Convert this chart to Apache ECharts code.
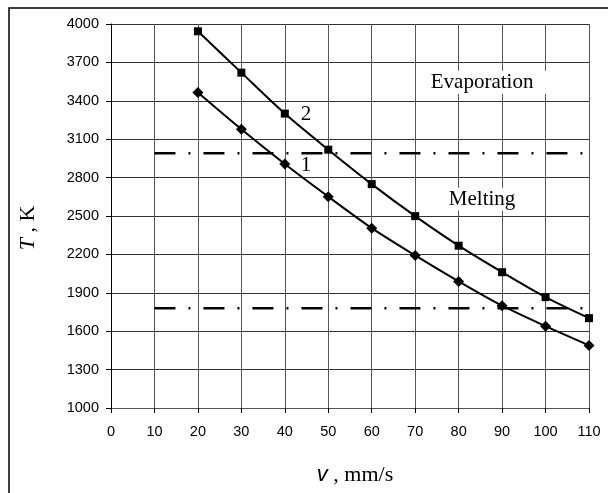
<!DOCTYPE html>
<html>
<head>
<meta charset="utf-8">
<script src="https://cdn.jsdelivr.net/npm/echarts@6/dist/echarts.min.js"></script>
<style>
  html, body { margin: 0; padding: 0; background: #fff; }
  #chart { width: 608px; height: 493px; }
</style>
</head>
<body>
<div id="chart"></div>
<script>
// speed, mm/s
const speeds = [20, 30, 40, 50, 60, 70, 80, 90, 100, 110];
// curve 1 (diamonds) and curve 2 (squares), K
const temp1 = [3464, 3177, 2906, 2651, 2405, 2192, 1989, 1799, 1639, 1489];
const temp2 = [3943, 3620, 3300, 3018, 2749, 2499, 2268, 2061, 1866, 1702];
// boiling / melting levels, K
const evapLevel = 2990;
const meltLevel = 1780;
const levelRange = [10, 110];

const serif = '"Liberation Serif", "Times New Roman", serif';
const sans = '"Liberation Sans", Arial, sans-serif';

const chart = echarts.init(document.getElementById('chart'));

const pairs = (ys) => speeds.map((v, i) => [v, ys[i]]);
const level = (t) => levelRange.map(v => [v, t]);

const dashDot = { color: '#000', width: 2.5, type: [21, 13, 2, 13] };

// text placed at a data coordinate, invisible symbol
const textLabel = (txt, coord, bg) => ({
  coord: coord,
  symbol: 'circle',
  symbolSize: 1,
  itemStyle: { color: 'rgba(0,0,0,0)' },
  label: {
    show: true,
    position: 'inside',
    formatter: txt,
    color: '#000',
    fontFamily: serif,
    fontSize: 21,
    backgroundColor: bg ? '#fff' : 'transparent',
    padding: bg ? [1, 14] : 0
  }
});

const option = {
  backgroundColor: '#fff',
  animation: false,
  grid: { left: 111, right: 19, top: 24, bottom: 85 },
  xAxis: {
    type: 'value',
    min: 0,
    max: 110,
    interval: 10,
    axisLine: { show: true, onZero: false, lineStyle: { color: '#555', width: 1 } },
    axisTick: { show: true, length: 5, lineStyle: { color: '#000' } },
    axisLabel: { color: '#000', fontFamily: sans, fontSize: 14.5, margin: 16, formatter: v => String(v) },
    splitLine: { show: true, lineStyle: { color: '#555', width: 1 } }
  },
  yAxis: {
    type: 'value',
    min: 1000,
    max: 4000,
    interval: 300,
    axisLine: { show: true, lineStyle: { color: '#000', width: 1 } },
    axisTick: { show: true, length: 5, lineStyle: { color: '#000' } },
    axisLabel: { color: '#000', fontFamily: sans, fontSize: 14.5, margin: 12, formatter: v => String(v) },
    splitLine: { show: true, lineStyle: { color: '#333', width: 1 } }
  },
  series: [
    {
      name: 'evaporation',
      type: 'line',
      data: level(evapLevel),
      symbol: 'none',
      lineStyle: dashDot,
      z: 3,
      markPoint: {
        silent: true,
        data: [
          textLabel('Evaporation', [85.4, 3545], true),
          textLabel('Melting', [85.4, 2630], true)
        ]
      }
    },
    {
      name: 'melting',
      type: 'line',
      data: level(meltLevel),
      symbol: 'none',
      lineStyle: dashDot,
      z: 3
    },
    {
      name: '1',
      type: 'line',
      data: pairs(temp1),
      smooth: 0.3,
      symbol: 'diamond',
      symbolSize: 11,
      itemStyle: { color: '#000' },
      lineStyle: { color: '#000', width: 2 },
      z: 5,
      markPoint: { silent: true, data: [textLabel('1', [44.9, 2893], false)] }
    },
    {
      name: '2',
      type: 'line',
      data: pairs(temp2),
      smooth: 0.3,
      symbol: 'rect',
      symbolSize: 8,
      itemStyle: { color: '#000' },
      lineStyle: { color: '#000', width: 2 },
      z: 5,
      markPoint: { silent: true, data: [textLabel('2', [44.9, 3294], false)] }
    }
  ],
  graphic: [
    {
      type: 'rect',
      silent: true,
      shape: { x: 9, y: 8, width: 700, height: 600 },
      style: { fill: 'none', stroke: '#000', lineWidth: 1.5 }
    },
    {
      type: 'text',
      silent: true,
      x: 28,
      y: 228,
      rotation: Math.PI / 2,
      style: {
        text: '{i|T}{r| , K}',
        align: 'center',
        verticalAlign: 'middle',
        rich: {
          i: { fontFamily: serif, fontStyle: 'italic', fontSize: 22, fill: '#000' },
          r: { fontFamily: serif, fontSize: 22, fill: '#000' }
        }
      }
    },
    {
      type: 'text',
      silent: true,
      x: 355,
      y: 475,
      style: {
        text: '{i|v}{r| , mm/s}',
        align: 'center',
        verticalAlign: 'middle',
        rich: {
          i: { fontFamily: sans, fontStyle: 'italic', fontSize: 22, fill: '#000' },
          r: { fontFamily: serif, fontSize: 22, fill: '#000' }
        }
      }
    }
  ]
};

chart.setOption(option);
</script>
</body>
</html>
